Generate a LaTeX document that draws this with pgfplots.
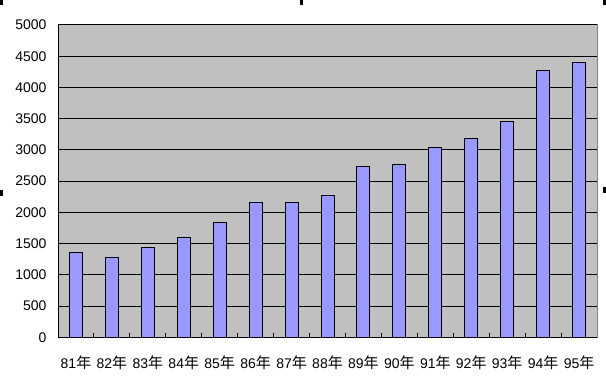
\documentclass[border=0pt]{standalone}
\usepackage{pgfplots}
\pgfplotsset{compat=1.18}
\usepackage{fontspec}
\setmainfont{Liberation Sans}
\newfontfamily\cjkf{Noto Sans CJK TC}
\newcommand{\nian}{{\cjkf\fontsize{15bp}{16bp}\selectfont 年}}
\definecolor{plotbg}{HTML}{C0C0C0}
\definecolor{barfill}{HTML}{9999FF}
\definecolor{frame}{HTML}{808080}
\begin{document}
\begin{tikzpicture}[x=1bp,y=1bp]
\path[use as bounding box] (0,0) rectangle (606,381);
\begin{axis}[
  at={(58bp,43.7bp)}, anchor=south west,
  scale only axis, width=539bp, height=312.3bp,
  xmin=-0.5, xmax=14.5, ymin=0, ymax=5000,
  axis background/.style={fill=plotbg, draw=frame, line width=1bp},
  axis x line*=bottom, axis y line*=left,
  axis line style={black, line width=1bp, -},
  ytick={0,500,...,5000},
  ymajorgrids, grid style={black, line width=1bp},
  xtick={0,...,14},
  xticklabels={81\nian,82\nian,83\nian,84\nian,85\nian,86\nian,87\nian,88\nian,89\nian,90\nian,91\nian,92\nian,93\nian,94\nian,95\nian},
  minor xtick={0.5,1.5,...,13.5},
  major tick length=0pt,
  minor tick length=4.5bp,
  minor tick style={black, line width=1bp},
  xtick pos=bottom, ytick pos=left,
  tick align=inside,
  ytick style={draw=none},
  /pgf/number format/assume math mode=true,
  scaled y ticks=false,
  yticklabel style={font=\fontsize{14bp}{16bp}\selectfont, xshift=-8bp},
  xticklabel style={font=\fontsize{14bp}{16bp}\selectfont, yshift=-15bp},
  y tick label style={/pgf/number format/.cd, 1000 sep={}},
]
\addplot[ybar, bar width=13bp, fill=barfill, draw=black, line width=1bp]
  coordinates {(0,1360) (1,1280) (2,1440) (3,1600) (4,1840) (5,2160) (6,2160) (7,2270) (8,2740) (9,2770) (10,3040) (11,3190) (12,3460) (13,4270) (14,4400)};
\end{axis}
\fill[black] (0,376) rectangle (3,381);
\fill[black] (300,376) rectangle (303,381);
\fill[black] (603,376) rectangle (606,381);
\fill[black] (0,185) rectangle (3,191);
\fill[black] (603,188) rectangle (606,194);
\end{tikzpicture}
\end{document}
